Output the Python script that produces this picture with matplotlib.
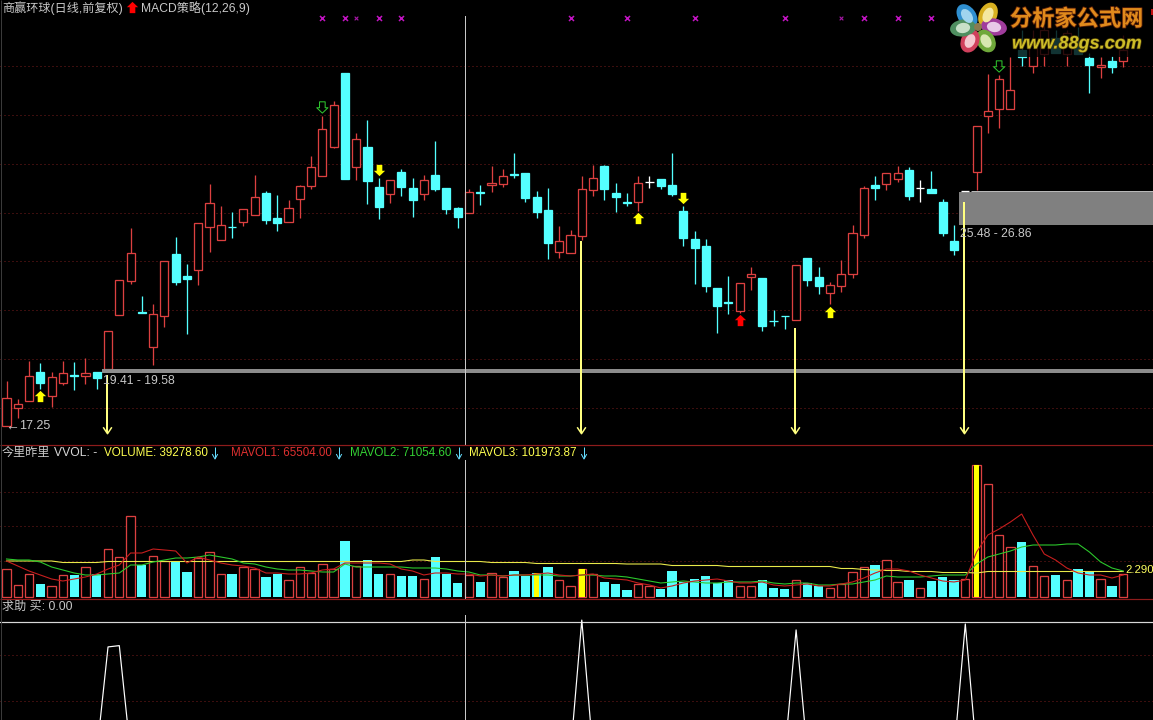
import matplotlib
matplotlib.use('Agg')
import matplotlib.pyplot as plt
import matplotlib.patheffects as pe
import numpy as np
from matplotlib.patches import Ellipse, Rectangle
from matplotlib.path import Path

plt.rcParams['font.family'] = ['Liberation Sans', 'Noto Sans CJK SC', 'DejaVu Sans']

# K线 (价格读自图上)
opens = [17.25, 17.99, 18.28, 19.46, 18.48, 19.01, 19.34, 19.30, 19.46, 19.59,
         21.80, 23.20, 21.92, 20.49, 21.76, 24.30, 23.40, 23.65, 25.41, 24.88,
         25.41, 25.61, 25.90, 26.80, 25.78, 25.61, 26.56, 27.09, 27.50, 28.69,
         31.72, 27.87, 28.69, 27.05, 26.76, 27.66, 27.01, 26.76, 27.54, 27.01,
         26.19, 25.98, 26.84, 27.13, 27.17, 27.58, 27.62, 26.64, 26.11, 24.38,
         24.34, 25.04, 26.93, 27.91, 26.80, 26.43, 26.43, 27.25, 27.38, 27.13,
         26.07, 24.92, 24.63, 22.91, 22.33, 21.97, 23.36, 23.32, 21.56, 21.76,
         21.60, 24.14, 23.36, 22.70, 22.99, 23.48, 25.08, 27.13, 27.17, 27.38,
         27.75, 27.01, 26.97, 26.43, 24.84, 26.90, 27.66, 29.96, 30.25, 30.25,
         32.67, 32.01, 32.50, 33.16, 32.50, 32.79, 32.34, 31.97, 32.22, 32.22]
closes = [18.40, 18.15, 19.30, 19.01, 19.26, 19.42, 19.32, 19.42, 19.22, 21.15,
          23.24, 24.34, 21.90, 21.84, 24.02, 23.15, 23.28, 25.57, 26.39, 25.49,
          25.39, 26.15, 26.64, 25.70, 25.57, 26.19, 27.09, 27.87, 29.43, 30.41,
          27.38, 29.02, 27.30, 26.23, 27.34, 27.05, 26.52, 27.34, 26.97, 26.15,
          25.82, 26.84, 26.82, 27.21, 27.50, 27.56, 26.60, 26.02, 24.75, 24.84,
          25.08, 26.97, 27.42, 26.97, 26.64, 26.41, 27.21, 27.25, 27.09, 26.76,
          24.96, 24.55, 22.99, 22.17, 22.31, 23.11, 23.48, 21.35, 21.54, 21.74,
          23.85, 23.24, 22.99, 23.03, 23.48, 25.16, 27.01, 27.01, 27.62, 27.62,
          26.68, 27.01, 26.80, 25.16, 24.47, 26.90, 29.55, 30.17, 31.48, 31.03,
          32.38, 32.87, 33.49, 32.54, 33.36, 32.50, 32.05, 32.05, 31.97, 32.67]
highs = [19.10, 18.36, 19.92, 19.83, 19.46, 19.92, 19.87, 20.04, 19.46, 21.15,
         23.24, 25.37, 22.58, 22.25, 24.02, 25.00, 23.89, 25.57, 27.17, 26.27,
         26.02, 26.15, 27.54, 26.89, 26.72, 26.52, 27.13, 28.32, 29.96, 30.57,
         31.72, 29.26, 29.80, 27.42, 27.34, 27.79, 27.42, 27.54, 28.94, 27.01,
         26.23, 26.97, 27.13, 27.91, 27.79, 28.44, 27.62, 26.89, 27.01, 25.45,
         25.29, 27.50, 27.95, 27.95, 27.21, 26.80, 27.50, 27.50, 27.38, 28.44,
         26.27, 25.25, 24.92, 22.91, 23.40, 23.11, 23.77, 23.32, 22.01, 21.76,
         23.85, 24.14, 23.77, 23.15, 24.06, 25.49, 27.09, 27.50, 27.62, 27.91,
         27.87, 27.34, 27.71, 26.56, 25.49, 26.90, 29.55, 31.68, 31.64, 32.38,
         33.49, 33.49, 33.65, 33.49, 33.49, 33.61, 32.54, 32.38, 32.42, 33.28]
lows = [17.25, 17.58, 18.28, 18.77, 18.03, 18.93, 18.73, 18.97, 18.77, 19.59,
        21.80, 23.07, 21.90, 19.75, 21.31, 23.03, 21.02, 23.03, 24.38, 24.88,
        24.96, 25.45, 25.90, 25.53, 25.25, 25.61, 25.78, 26.97, 27.50, 28.65,
        27.38, 27.34, 26.35, 25.74, 26.39, 26.68, 25.82, 26.52, 26.89, 25.94,
        25.37, 25.98, 26.31, 26.84, 27.05, 27.42, 26.43, 25.78, 24.10, 24.14,
        24.34, 24.88, 26.68, 26.52, 26.02, 26.27, 26.07, 27.01, 26.97, 26.68,
        24.63, 23.07, 22.74, 21.06, 21.84, 21.88, 22.83, 21.15, 21.35, 21.23,
        21.60, 22.99, 22.66, 22.25, 22.74, 23.32, 24.96, 26.52, 26.93, 27.25,
        26.52, 26.43, 26.80, 25.04, 24.26, 26.20, 26.93, 29.26, 29.47, 30.25,
        32.01, 31.72, 32.01, 32.54, 32.01, 32.50, 30.90, 31.52, 31.72, 31.97]

# 成交量和均线 (副图没有刻度,按相对高度估读)
volumes = [28, 12, 23, 13, 11, 22, 22, 30, 23, 48,
           40, 81, 32, 41, 36, 35, 25, 39, 45, 23,
           23, 30, 28, 20, 23, 17, 30, 24, 33, 28,
           56, 31, 37, 23, 23, 21, 21, 18, 40, 23,
           14, 22, 15, 24, 20, 26, 21, 24, 30, 17,
           11, 28, 23, 15, 13, 7, 13, 11, 8, 26,
           15, 18, 21, 14, 17, 11, 11, 17, 9, 8,
           17, 14, 11, 9, 13, 25, 30, 32, 37, 15,
           17, 9, 16, 20, 17, 18, 132, 113, 62, 50,
           55, 31, 21, 22, 17, 28, 26, 18, 11, 23]
mavol1 = [36, 31, 26, 22, 18, 16, 18, 20, 23, 28,
          32, 44, 44, 48, 47, 46, 34, 40, 37, 34,
          32, 31, 29, 24, 24, 23, 23, 24, 27, 28,
          34, 34, 34, 34, 33, 28, 26, 22, 24, 24,
          23, 23, 21, 22, 21, 22, 22, 23, 24, 22,
          21, 22, 23, 19, 18, 17, 14, 12, 9, 11,
          14, 16, 17, 18, 16, 14, 14, 15, 12, 11,
          12, 13, 11, 11, 13, 15, 19, 24, 28, 28,
          26, 22, 19, 16, 15, 17, 45, 62, 68, 75,
          83, 62, 43, 37, 29, 24, 22, 22, 19, 22]
mavol2 = [38, 37, 37, 35, 30, 27, 24, 22, 22, 23,
          24, 32, 32, 35, 37, 39, 39, 40, 42, 40,
          38, 34, 33, 30, 28, 27, 27, 26, 25, 25,
          33, 30, 30, 30, 30, 30, 29, 29, 29, 28,
          26, 25, 22, 22, 21, 22, 22, 22, 22, 21,
          21, 22, 22, 21, 21, 20, 18, 16, 14, 15,
          16, 15, 14, 14, 15, 15, 15, 16, 14, 13,
          14, 14, 12, 12, 13, 13, 15, 17, 21, 20,
          20, 20, 21, 22, 22, 22, 33, 40, 43, 46,
          50, 52, 52, 52, 53, 53, 45, 35, 29, 26]
mavol3 = [36, 36, 36, 36, 36, 34.5, 34.5, 34.5, 34.5, 35.5,
          35.5, 35.5, 35.5, 35.5, 35.5, 35.5, 35.5, 35.5, 35.5, 35.5,
          35.5, 35.5, 35.5, 35.5, 35.5, 35.5, 35.5, 35.5, 35.5, 35.5,
          35.5, 35.5, 35.5, 35.5, 35.5, 35.5, 37, 37, 35.5, 35.5,
          35.5, 35.5, 35.5, 34.5, 34.5, 34.5, 34.5, 33.5, 33.5, 33.5,
          33.5, 33.5, 33.5, 33.5, 33.5, 33, 33, 33, 33, 31.5,
          31.5, 31.5, 31.5, 31.5, 30.5, 30.5, 30.5, 30.5, 30.5, 30.5,
          30.5, 30.5, 30.5, 30.5, 28.5, 28.5, 27.5, 27, 26.5, 26.5,
          25.5, 25.5, 25.5, 24.5, 24.5, 24.5, 24, 25.5, 25.5, 25.5,
          25.5, 25.5, 25.5, 25.5, 25.5, 25.5, 25.5, 25.5, 25.5, 25.5]
highlight_bars = [47, 51, 86]

# 求助 买 指标
buy_days = [9, 10, 51, 70, 85]
buy_values = [0.81, 0.82, 1.015, 0.94, 0.985]

# 信号
cross_days = [28, 30, 33, 35, 50, 55, 61, 69, 76, 79, 82]
small_cross_days = [31, 74]
up_days = [3, 56, 73]
up_prices = [18.46, 25.76, 21.94]
down_days = [33, 60]
down_prices = [27.73, 26.58]
red_up_days = [65]
red_up_prices = [21.58]
hollow_days = [28, 88]
hollow_prices = [30.31, 31.99]
signal_days = [9, 51, 70, 85]
signal_prices = [19.34, 24.84, 21.27, 26.43]
zone_days = [9, 85]
zone_lows = [19.41, 25.48]
zone_highs = [19.58, 26.86]
grid_prices = [18, 20, 22, 24, 26, 28, 30, 32]
grid_volumes = [36, 71, 105]
grid_buy = [0.397, 0.748]
crosshair_day = 40.69

BLACK = '#000000'
RED = '#dc4040'
CYAN = '#54ffff'
GRID = '#781c1c'
GRAY = '#c8c8c8'
PALE = '#ffff80'
DOTS = (0, (1, 3))
PX = 0.72  # 1 pixel in points at dpi 100
EDGE = 1.3 * PX

W, H = 1153, 720
fig = plt.figure(figsize=(W / 100, H / 100), dpi=100, facecolor=BLACK)


def add_panel(top, bottom, ylim):
    ax = fig.add_axes([0, 1 - bottom / H, 1, (bottom - top) / H])
    ax.set_facecolor(BLACK)
    ax.set_xlim(-6.5 / 11.28, (W - 6.5) / 11.28)
    ax.set_ylim(*ylim)
    ax.axis('off')
    return ax


ax1 = add_panel(0, 445, (16.4705, 34.716))
ax2 = add_panel(445, 599, (-2, 152))
ax3 = add_panel(599, 720, (0.252, 1.176))

x = np.arange(len(opens))
o, c, hi, lo = map(np.array, (opens, closes, highs, lows))
top = np.maximum(o, c)
bot = np.minimum(o, c)
is_up = c > o
is_down = c < o
is_flat = c == o

# 主图
for p in grid_prices:
    ax1.axhline(p, color=GRID, lw=PX, ls=DOTS, zorder=1)

for mask, col, face in ((is_up, RED, BLACK), (is_down, CYAN, CYAN), (is_flat, 'white', 'white')):
    ax1.vlines(x[mask], top[mask], hi[mask], color=col, lw=EDGE, zorder=2)
    ax1.vlines(x[mask], lo[mask], bot[mask], color=col, lw=EDGE, zorder=2)
    ax1.bar(x[mask], (top - bot)[mask], bottom=bot[mask], width=0.72, color=face,
            edgecolor=col, linewidth=EDGE, zorder=3)

# 区间横条
ax1.bar(zone_days[0] - 0.55, zone_highs[0] - zone_lows[0], bottom=zone_lows[0], width=200,
        align='edge', color='#8c8c8c', linewidth=0, zorder=4)
ax1.bar(zone_days[1] - 0.6, zone_highs[1] - zone_lows[1], bottom=zone_lows[1], width=200,
        align='edge', color='#808080', linewidth=0, zorder=2.5)
ax1.hlines(zone_highs[1] + 0.02, zone_days[1] + 0.5, 110, color='#b8b8b8', lw=PX, zorder=4)

# 黄色长箭头
arrow_x = np.array(signal_days) - 0.1
ax1.vlines(arrow_x, 16.96, signal_prices, color=PALE, lw=2 * PX, zorder=5)
v_path = Path([(-1, 0.75), (0, -0.75), (1, 0.75)])
ax1.plot(arrow_x, [17.09] * len(arrow_x), ls='none', marker=v_path, ms=6.2, mfc='none',
         mec=PALE, mew=1.5 * PX, zorder=5)

# 小箭头
up_path = Path([(0, 1), (1, 0.05), (0.5, 0.05), (0.5, -1), (-0.5, -1), (-0.5, 0.05),
                (-1, 0.05), (0, 1)], closed=True)
down_path = Path(np.array(up_path.vertices) * [1, -1], closed=True)
S = 66
ax1.scatter(up_days, up_prices, marker=up_path, s=S, color='#ffff00', linewidths=0, zorder=6)
ax1.scatter(down_days, down_prices, marker=down_path, s=S, color='#ffff00', linewidths=0, zorder=6)
ax1.scatter(red_up_days, red_up_prices, marker=up_path, s=S, color='#ff0000', linewidths=0, zorder=6)
ax1.scatter(hollow_days, hollow_prices, marker=down_path, s=S, facecolors='none',
            edgecolors='#2fc82f', linewidths=PX, zorder=6)

# 顶部紫色叉
ax1.scatter(cross_days, [33.98] * len(cross_days), marker='x', s=13, color='#c214c2', linewidths=1.1, zorder=6)
ax1.scatter(small_cross_days, [33.98] * len(small_cross_days), marker='x', s=7, color='#a818a8',
            linewidths=0.8, zorder=6)

# 副图1 成交量
for g in grid_volumes:
    ax2.axhline(g, color=GRID, lw=PX, ls=DOTS, zorder=1)
vol = np.array(volumes)
not_down = ~is_down
ax2.bar(x[not_down], vol[not_down], width=0.74, color=BLACK, edgecolor=RED, linewidth=EDGE, zorder=2)
ax2.bar(x[is_down], vol[is_down], width=0.82, color=CYAN, linewidth=0, zorder=2)
ax2.bar(highlight_bars, vol[highlight_bars], width=0.5, color='#ffff00', linewidth=0, zorder=3)
ax2.plot(x, mavol3, color='#e8e84a', lw=1.1 * PX, zorder=4)
ax2.plot(x, mavol2, color='#2cc82c', lw=1.1 * PX, zorder=5)
ax2.plot(x, mavol1, color='#c81e1e', lw=1.1 * PX, zorder=6)

# 副图2 求助
buy = np.zeros(len(x))
buy[buy_days] = buy_values
for g in grid_buy:
    ax3.axhline(g, color=GRID, lw=PX, ls=DOTS, zorder=1)
ax3.axhline(1.0, color='#d8d8d8', lw=PX * 1.2, zorder=2)
ax3.plot(x, buy, color='white', lw=1.2 * PX, zorder=3)

# 十字光标
ax1.axvline(crosshair_day, ymin=0, ymax=1 - 16 / 445, color=GRAY, lw=PX, zorder=7)
ax2.axvline(crosshair_day, ymin=0, ymax=1 - 15 / 154, color=GRAY, lw=PX, zorder=7)
ax3.axvline(crosshair_day, ymin=0, ymax=1 - 16 / 121, color=GRAY, lw=PX, zorder=7)

# 覆盖层: 文字, 分隔线, 水印 (像素坐标)
ov = fig.add_axes([0, 0, 1, 1])
ov.set_xlim(0, W)
ov.set_ylim(H, 0)
ov.axis('off')
ov.patch.set_alpha(0)

ov.hlines([445, 599], 0, W, color='#8e1c1c', lw=1.2 * PX)
ov.vlines(0.5, 0, H, color='#3a3a3a', lw=PX)


def label(px, py, text, color=GRAY, size=8.7, **kw):
    ov.text(px, py, text, color=color, fontsize=size, ha='left', va='center', **kw)


label(2, 8, '商赢环球(日线,前复权)')
label(141, 8, 'MACD策略(12,26,9)')
ov.scatter([132], [6.5], marker=up_path, s=S, color='#ff0000', linewidths=0)
label(5, 426, '←', size=10)
label(19, 426, '17.25', size=9)
label(103, 381, '19.41 - 19.58')
label(960, 234, '25.48 - 26.86')

label(2, 453, '今里昨里')
label(54, 453, 'VVOL: -', color='#d8d8d8')
label(104, 453, 'VOLUME: 39278.60', color='#ffff50', size=8.4)
label(231, 453, 'MAVOL1: 65504.00', color='#e03030', size=8.3)
label(350, 453, 'MAVOL2: 71054.60', color='#34d034', size=8.4)
label(469, 453, 'MAVOL3: 101973.87', color='#ffff50', size=8.4)
# 数值后面的小箭头
for ax_x in (215, 339, 459, 584):
    ov.vlines(ax_x, 447, 458, color='#66ddff', lw=PX)
    ov.plot([ax_x - 2.5, ax_x, ax_x + 2.5], [454.5, 459, 454.5], color='#66ddff', lw=PX)
label(1125.5, 570, '2.290', color='#ffff60', size=8.2)
label(2, 607, '求助 买: 0.00')

# 水印
ov.add_patch(Rectangle((950, 0), 203, 57, color=BLACK, alpha=0.8, linewidth=0, zorder=8))
ov.add_patch(Rectangle((1151, 9), 2, 6, color='#c01010', linewidth=0, zorder=9))
petals = [(967, 16, 18, 26, -35, '#2f8fd0', '#9fd4ee'),
          (988, 15, 18, 26, 25, '#d8b020', '#f4e8a0'),
          (994, 27, 26, 17, 10, '#a03c9c', '#e8c8e8'),
          (986, 41, 18, 24, -30, '#6fa83a', '#d8e8b0'),
          (970, 41, 18, 24, 25, '#d0405c', '#f4c8d0'),
          (963, 28, 26, 17, -8, '#4f8f60', '#c8e0c8')]
for ex, ey, ew, eh, ang, col, inner in petals:
    ov.add_patch(Ellipse((ex, ey), ew, eh, angle=ang, color=col, linewidth=0, zorder=9))
    ov.add_patch(Ellipse((ex, ey), ew * 0.55, eh * 0.6, angle=ang, color=inner, linewidth=0, zorder=10))
ov.add_patch(Ellipse((978, 27), 8, 8, color='#8a7a50', linewidth=0, zorder=11))
ov.text(1010, 20, '分析家公式网', color='#e08a1c', fontsize=16, fontweight='bold', ha='left', va='center',
        zorder=11, path_effects=[pe.withStroke(linewidth=1.2, foreground='#5a2008')])
ov.text(1012, 44, 'www.88gs.com', color='#ccbc28', fontsize=13, fontweight='bold', style='italic',
        ha='left', va='center', zorder=11, path_effects=[pe.withStroke(linewidth=1, foreground='#4a3a08')])

fig.savefig('out.png', dpi=100, facecolor=BLACK)
